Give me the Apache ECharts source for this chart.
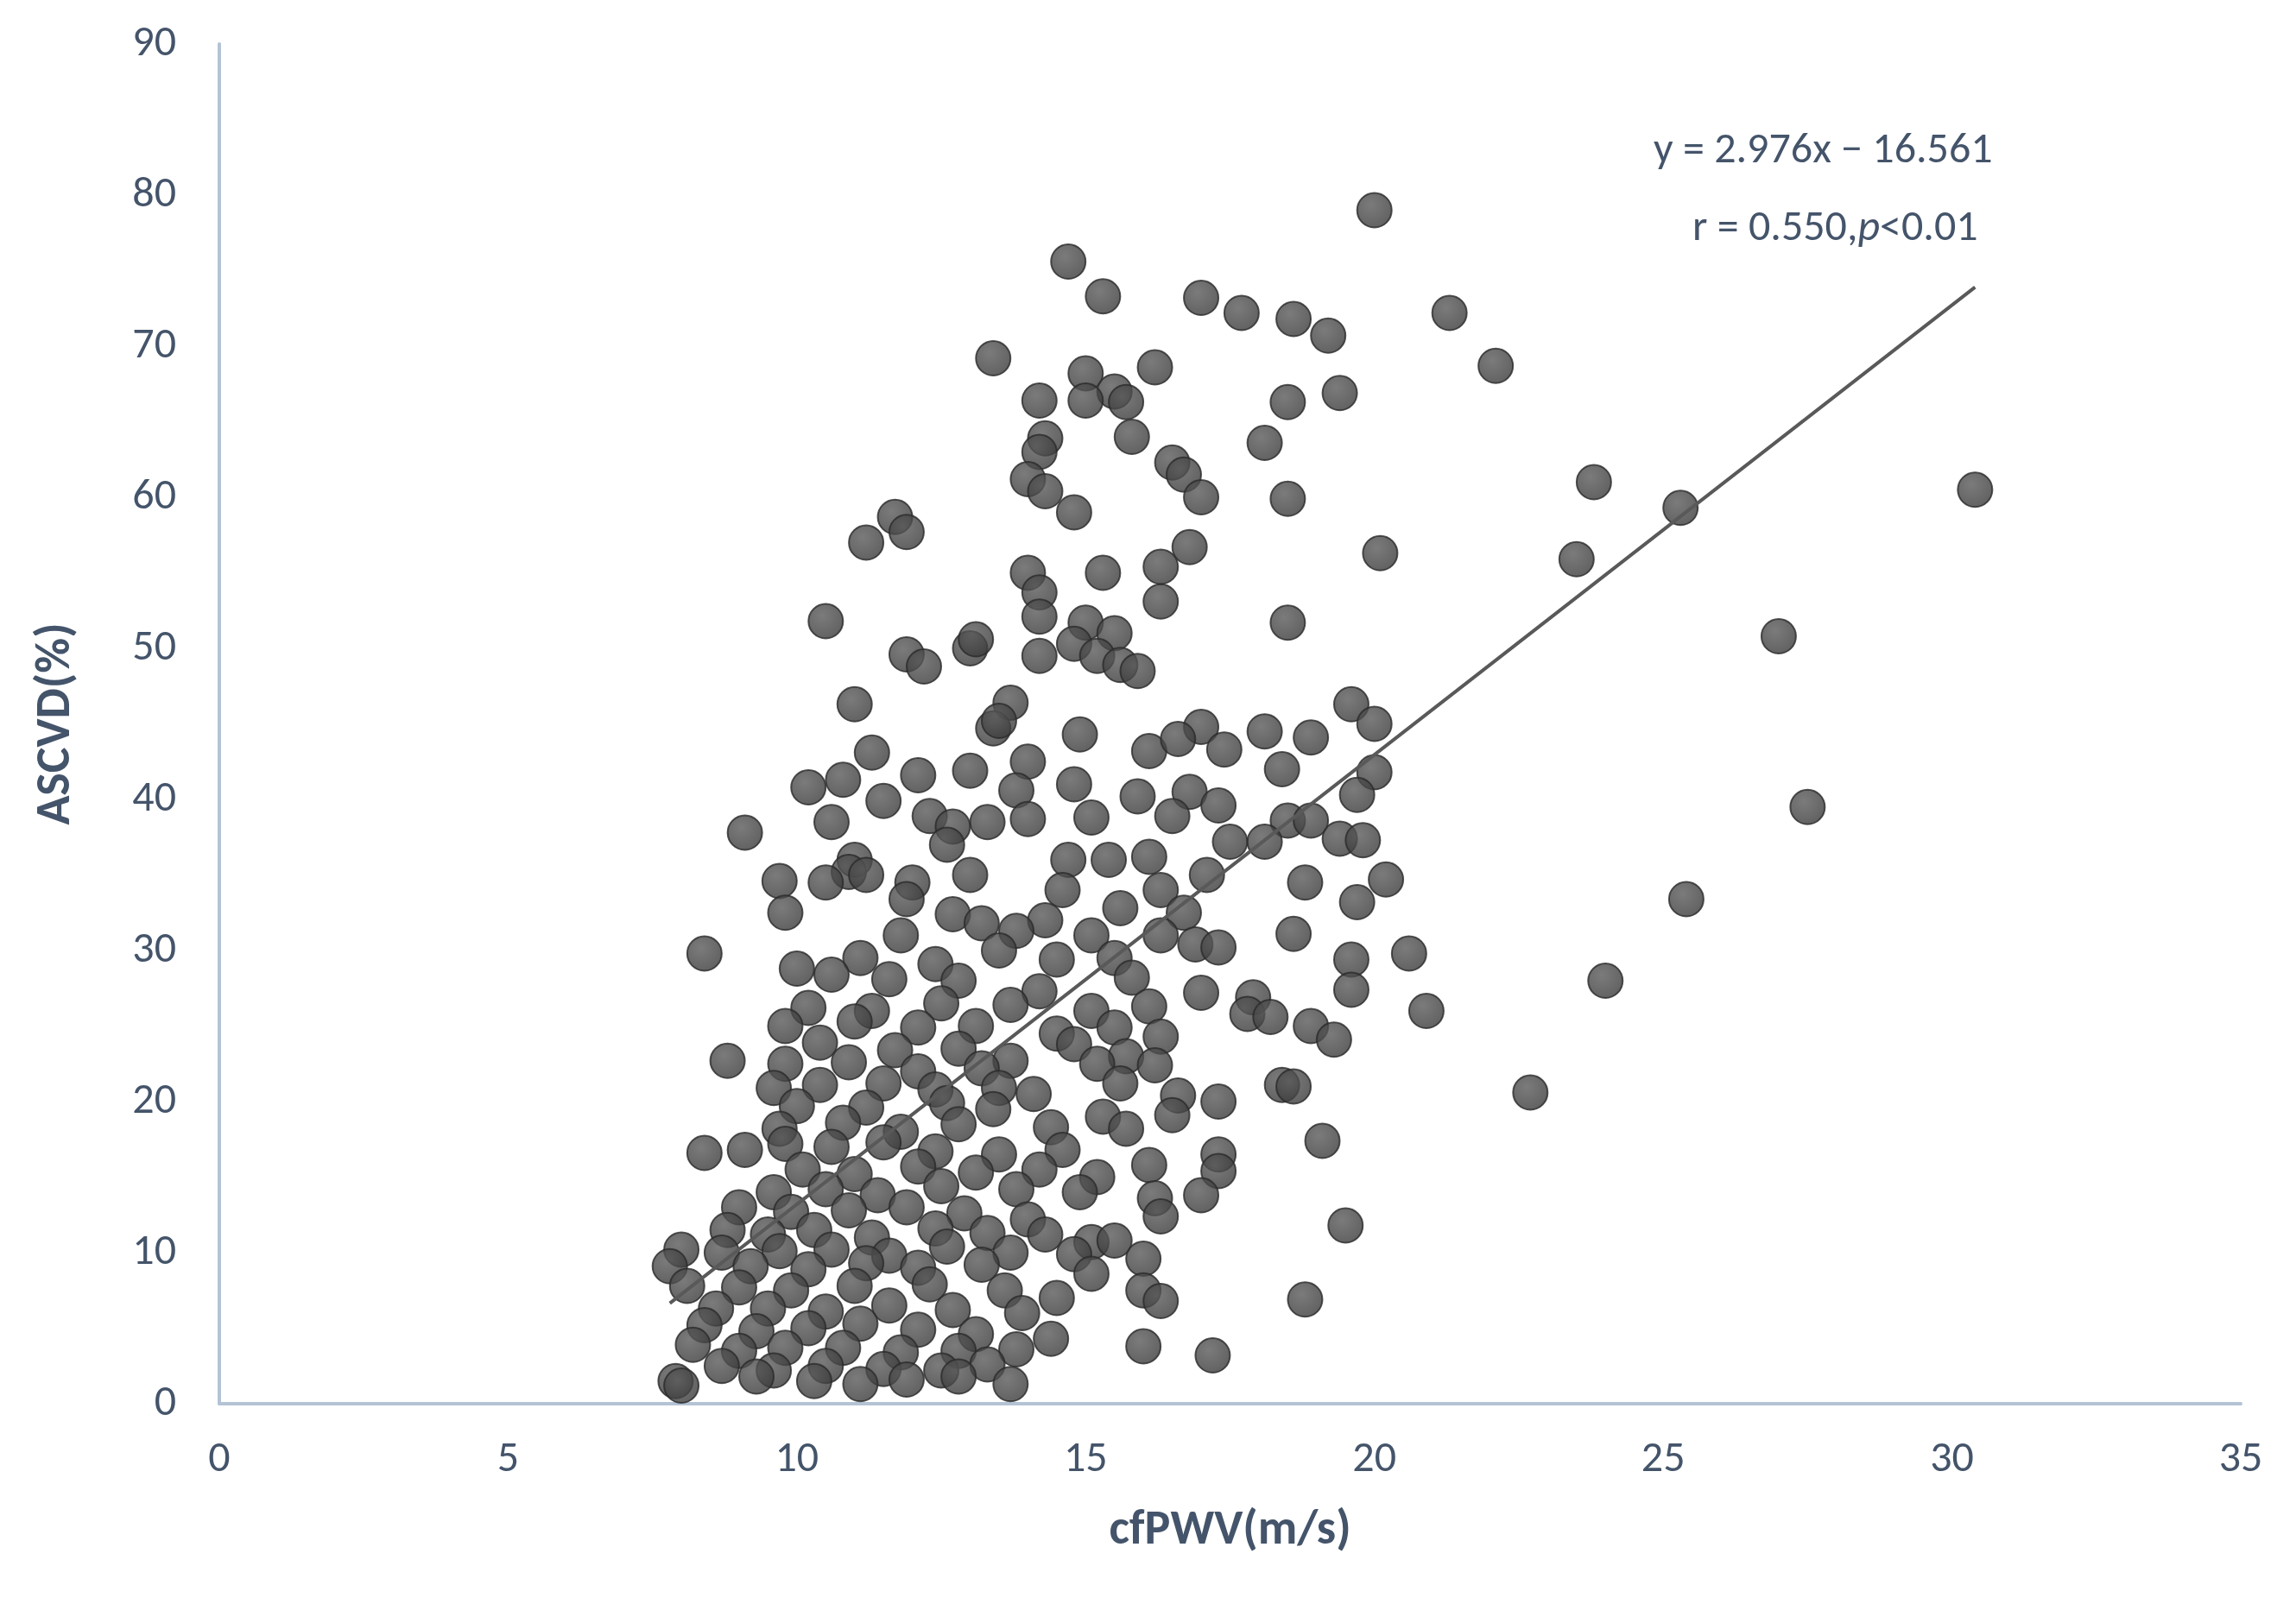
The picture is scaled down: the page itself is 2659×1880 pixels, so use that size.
<!DOCTYPE html>
<html><head><meta charset="utf-8">
<script src="https://cdn.jsdelivr.net/npm/echarts@6/dist/echarts.min.js"></script>
<style>html,body{margin:0;background:#fff}#c{width:2659px;height:1880px}</style>
</head><body><div id="c"></div>
<script>
const xTicks=[0,5,10,15,20,25,30,35];
const yTicks=[0,10,20,30,40,50,60,70,80,90];
const slope=2.976, intercept=-16.561;
const trendX=[7.8,30.4];
const points=[[20,79],[14.7,75.6],[15.3,73.3],[17,73.2],[17.7,72.2],[18.6,71.8],[19.2,70.7],[21.3,72.2],[22.1,68.7],[13.4,69.2],[16.2,68.6],[15,68.2],[15.5,67],[15,66.4],[15.7,66.3],[14.2,66.4],[18.5,66.3],[19.4,66.9],[14.3,63.9],[14.2,63],[15.8,64],[18.1,63.6],[16.5,62.3],[16.7,61.5],[14,61.2],[14.3,60.4],[17,60],[18.5,59.9],[14.8,59],[23.8,61],[25.3,59.3],[30.4,60.5],[11.7,58.7],[11.9,57.7],[11.2,57],[20.1,56.3],[23.5,55.9],[16.8,56.7],[16.3,55.4],[15.3,55],[14,55],[14.2,53.7],[16.3,53.1],[14.2,52.1],[10.5,51.8],[18.5,51.7],[15,51.7],[15.5,51],[14.8,50.3],[14.2,49.5],[15.2,49.5],[15.6,48.9],[15.9,48.5],[11.9,49.6],[12.2,48.8],[13,50],[13.1,50.6],[27,50.8],[13.7,46.4],[11,46.3],[19.6,46.3],[20,45],[13.4,44.7],[13.5,45.2],[14.9,44.3],[17,44.8],[18.1,44.5],[18.9,44.1],[17.4,43.3],[16.1,43.2],[16.6,44],[11.3,43.1],[14,42.5],[18.4,42],[20,41.8],[19.7,40.3],[12.1,41.6],[13,41.9],[10.2,40.8],[10.8,41.3],[13.8,40.6],[14.8,41],[15.9,40.2],[16.8,40.5],[17.3,39.6],[11.5,39.9],[12.3,38.9],[10.6,38.5],[9.1,37.8],[12.7,38.2],[13.3,38.5],[14,38.7],[15.1,38.8],[16.5,38.9],[18.5,38.6],[18.9,38.6],[19.4,37.4],[19.8,37.3],[27.5,39.5],[11,36],[12.6,37],[14.7,36],[15.4,36],[16.1,36.2],[17.5,37.2],[18.1,37.2],[10.9,35.2],[11.2,35],[12,34.5],[9.7,34.6],[10.5,34.5],[13,35],[14.6,34],[17.1,35],[16.3,34],[18.8,34.5],[20.2,34.7],[9.8,32.5],[11.9,33.4],[12.7,32.4],[14.3,32],[15.6,32.8],[16.7,32.5],[19.7,33.2],[25.4,33.4],[11.8,31],[13.2,31.8],[13.8,31.3],[15.1,31],[16.3,31],[18.6,31.1],[8.4,29.8],[11.1,29.5],[12.4,29.1],[13.5,30],[14.5,29.4],[15.5,29.5],[16.9,30.4],[17.3,30.2],[19.6,29.4],[20.6,29.8],[10,28.8],[10.6,28.4],[11.6,28.1],[12.8,28],[14.2,27.3],[15.8,28.2],[17,27.2],[17.9,26.9],[19.6,27.4],[10.2,26.2],[11.3,26],[12.5,26.5],[13.7,26.4],[15.1,26],[16.1,26.3],[17.8,25.8],[18.2,25.6],[20.9,26],[9.8,25],[11,25.3],[12.1,24.9],[13.1,25],[14.5,24.5],[15.5,24.9],[16.3,24.3],[18.9,25],[19.3,24.1],[24,28],[10.4,23.9],[11.7,23.4],[12.8,23.5],[13.7,22.7],[14.8,23.8],[15.7,23],[8.8,22.7],[9.8,22.5],[10.9,22.6],[12.1,22],[13.2,22.2],[15.2,22.5],[16.2,22.4],[9.6,20.9],[10.4,21.1],[11.5,21.2],[12.4,20.8],[13.5,20.9],[14.1,20.5],[15.6,21.2],[16.6,20.4],[18.4,21.1],[18.6,21],[22.7,20.6],[10,19.7],[11.2,19.6],[12.6,19.9],[13.4,19.5],[15.3,19],[16.5,19.1],[17.3,20],[9.7,18.2],[10.8,18.6],[11.8,18],[12.8,18.5],[14.4,18.3],[15.7,18.2],[9.8,17.2],[10.6,17],[11.5,17.3],[12.4,16.7],[13.5,16.5],[14.6,16.8],[9.1,16.8],[8.4,16.6],[17.3,16.5],[19.1,17.4],[10.1,15.5],[11,15.2],[12.1,15.7],[13.1,15.3],[14.2,15.5],[15.2,15],[16.1,15.8],[17.3,15.4],[9.6,14],[10.5,14.2],[11.4,13.8],[12.5,14.4],[13.8,14.2],[14.9,14],[16.2,13.6],[17,13.8],[9,13],[9.9,12.7],[10.9,12.8],[11.9,13],[12.9,12.6],[14,12.2],[16.3,12.4],[8.8,11.5],[9.5,11.2],[10.3,11.5],[11.3,11],[12.4,11.6],[13.3,11.3],[14.3,11.2],[15.1,10.7],[15.5,10.8],[19.5,11.8],[8,10.2],[8.7,10],[9.7,10.1],[10.6,10.2],[11.6,9.8],[12.6,10.4],[13.7,10],[14.8,9.9],[16,9.6],[7.8,9.1],[9.2,9.1],[10.2,8.9],[11.2,9.3],[12.1,9],[13.2,9.2],[15.1,8.6],[8.1,7.8],[9,7.7],[9.9,7.5],[11,7.8],[12.3,7.9],[13.6,7.5],[14.5,7],[16,7.5],[16.3,6.8],[18.8,6.9],[8.6,6.3],[9.5,6.3],[10.5,6.1],[11.6,6.5],[12.7,6.2],[13.9,6],[8.4,5.2],[9.3,4.8],[10.2,5],[11.1,5.3],[12.1,4.9],[13.1,4.6],[14.4,4.3],[8.2,3.9],[9,3.5],[9.8,3.7],[10.8,3.7],[11.8,3.4],[12.8,3.5],[13.8,3.6],[16,3.8],[17.2,3.2],[8.7,2.5],[9.6,2.2],[10.5,2.5],[11.5,2.3],[12.5,2.2],[13.3,2.6],[7.9,1.5],[9.3,1.8],[10.3,1.5],[11.1,1.3],[11.9,1.6],[12.8,1.8],[13.7,1.3],[8,1.2]];
const trend=trendX.map(x=>[x,slope*x+intercept]);
const chart=echarts.init(document.getElementById('c'));
const lab={color:'#44546a',fontSize:50,fontFamily:'Calibri, Carlito, "Liberation Sans", sans-serif'};
chart.setOption({
  animation:false,
  grid:{left:254,right:64,top:51,bottom:254},
  xAxis:{type:'value',min:0,max:35,interval:5,name:'cfPWV(m/s)',nameLocation:'middle',nameGap:120,
    nameTextStyle:{...lab,fontSize:56,fontWeight:'bold'},
    axisLine:{lineStyle:{color:'#b4c3d5',width:4}},axisTick:{show:false},splitLine:{show:false},
    axisLabel:{...lab,margin:40}},
  yAxis:{type:'value',min:0,max:90,interval:10,name:'ASCVD(%)',nameLocation:'middle',nameGap:160,
    nameTextStyle:{...lab,fontSize:56,fontWeight:'bold'},
    axisLine:{show:true,lineStyle:{color:'#b4c3d5',width:4}},axisTick:{show:false},splitLine:{show:false},
    axisLabel:{...lab,margin:50}},
  series:[
    {type:'scatter',data:points,symbolSize:40,itemStyle:{color:new echarts.graphic.RadialGradient(0.4,0.35,0.7,[{offset:0,color:'#5a5a5a'},{offset:1,color:'#383838'}]),borderColor:'#2a2a2a',borderWidth:2}},
    {type:'line',data:trend,symbol:'none',lineStyle:{color:'#595959',width:4},z:5}
  ],
  graphic:[
    {type:'text',left:1915,top:150,style:{text:'y = 2.976x − 16.561',fill:'#44546a',font:'50px Calibri, Carlito, "Liberation Sans", sans-serif'}},
    {type:'text',left:1960,top:240,style:{rich:{a:{fill:'#44546a',font:'50px Calibri, Carlito, "Liberation Sans", sans-serif'},i:{fill:'#44546a',font:'italic 50px Calibri, Carlito, "Liberation Sans", sans-serif'}},text:'{a|r = 0.550,}{i|p}{a|<0.01}'}}
  ]
});
</script></body></html>
